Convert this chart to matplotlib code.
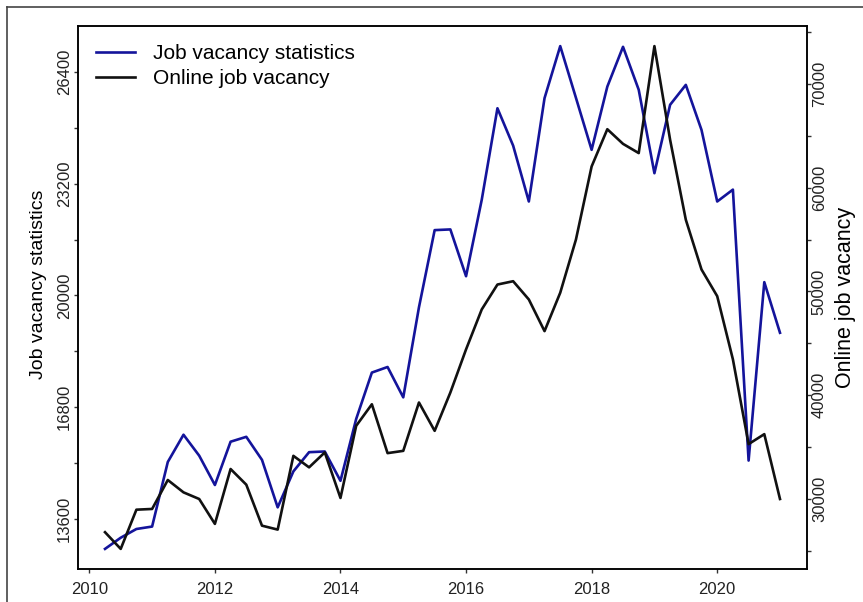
import matplotlib
matplotlib.use("Agg")
import matplotlib.pyplot as plt
from matplotlib.lines import Line2D
import numpy as np
import pandas as pd

# quarterly series, 2010Q2 .. 2021Q1
QUARTERS = pd.period_range("2010Q2", "2021Q1", freq="Q")
JVS = [12740, 13060, 13310, 13380, 15230, 16010, 15410, 14570,
       15810, 15950, 15290, 13930, 14960, 15510, 15530, 14690,
       16460, 17790, 17950, 17080, 19660, 21870, 21890, 20550,
       22740, 25360, 24290, 22690, 25650, 27140, 25660, 24170,
       25980, 27120, 25890, 23500, 25460, 26030, 24740, 22690,
       23030, 15270, 20380, 18930]
OJV = [26800, 25190, 28970, 29040, 31830, 30640, 30000, 27600,
       32890, 31380, 27430, 27050, 34160, 33050, 34490, 30100,
       37050, 39130, 34420, 34640, 39300, 36570, 40260, 44420,
       48270, 50670, 50990, 49230, 46180, 49880, 55000, 62050,
       65640, 64230, 63340, 73650, 64620, 56920, 52120, 49550,
       43460, 35290, 36250, 30000]

LEFT_TICKS = np.arange(13600, 27201, 1600)
LEFT_LABELS = [f"{t}" if (t - 13600) % 3200 == 0 else "" for t in LEFT_TICKS]
RIGHT_TICKS = np.arange(25000, 75001, 5000)
RIGHT_LABELS = [f"{t}" if t % 10000 == 0 else "" for t in RIGHT_TICKS]
YEAR_TICKS = [2010, 2012, 2014, 2016, 2018, 2020]

plt.rcParams["font.family"] = ["Liberation Sans", "DejaVu Sans"]

x = np.array([p.year + (p.quarter - 1) / 4 for p in QUARTERS])
BLUE = "#14149b"

fig = plt.figure(figsize=(8.63, 6.02), dpi=100)
ax = fig.add_axes([0.0904, 0.0548, 0.8447, 0.902])
ax2 = ax.twinx()

l1, = ax.plot(x, JVS, color=BLUE, lw=1.9)
l2, = ax2.plot(x, OJV, color="#111111", lw=1.9)

span = x[-1] - x[0]
ax.set_xlim(x[0] - 0.04 * span, x[-1] + 0.04 * span)
r = max(JVS) - min(JVS)
ax.set_ylim(min(JVS) - 0.04 * r, max(JVS) + 0.04 * r)
r2 = max(OJV) - min(OJV)
ax2.set_ylim(min(OJV) - 0.04 * r2, max(OJV) + 0.04 * r2)

ax.set_xticks(YEAR_TICKS)
ax.set_yticks(LEFT_TICKS)
ax.set_yticklabels(LEFT_LABELS, rotation=90, va="center")
ax2.set_yticks(RIGHT_TICKS)
ax2.set_yticklabels(RIGHT_LABELS, rotation=90, va="center")

for a in (ax, ax2):
    a.tick_params(length=3, width=1, color="#333333", labelsize=12,
                  labelcolor="#222222")
    for s in a.spines.values():
        s.set_linewidth(1.1)
ax.tick_params(axis="x", pad=6)
ax.tick_params(axis="y", pad=1.5)
ax2.tick_params(axis="y", pad=0.5)

ax.set_ylabel("Job vacancy statistics", fontsize=14)
ax.yaxis.set_label_coords(-0.042, 0.525)
ax2.set_ylabel("Online job vacancy", fontsize=15.5, labelpad=6)

ax.legend([l1, l2], ["Job vacancy statistics", "Online job vacancy"],
          loc="upper left", bbox_to_anchor=(0.024, 0.967), frameon=False,
          fontsize=15, handlelength=1.9, handletextpad=0.85,
          labelspacing=0.3, borderpad=0, borderaxespad=0)

# outer frame of the original image (top and left edges only)
fig.add_artist(Line2D([0.0081, 0.0081], [0.0, 0.9884], color="#444444", lw=1.2))
fig.add_artist(Line2D([0.0081, 1.0], [0.9884, 0.9884], color="#444444", lw=1.2))

fig.savefig("out.png", dpi=100)
